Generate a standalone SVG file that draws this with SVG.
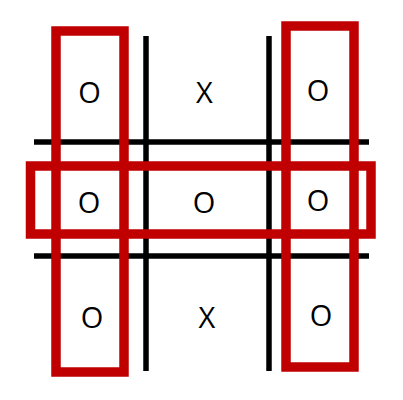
<svg xmlns="http://www.w3.org/2000/svg" width="403" height="400" viewBox="0 0 403 400">
<style>
.grid{stroke:#000;stroke-width:5.5;fill:none}
.win{stroke:#C00000;stroke-width:9.5;fill:none}
</style>
<rect width="403" height="400" fill="#fff"/>
<g id="grid">
<line class="grid" x1="146" y1="36" x2="146" y2="371"/>
<line class="grid" x1="269" y1="36" x2="269" y2="371"/>
<line class="grid" x1="34" y1="142" x2="369" y2="142"/>
<line class="grid" x1="34" y1="256" x2="369" y2="256"/>
</g>
<g id="cells" font-family="'Open Sans', 'Liberation Sans', sans-serif" font-size="29" fill="#000" text-anchor="middle">
<text x="89.5" y="102.5">O</text>
<text x="204.5" y="102.5">X</text>
<text x="318" y="101">O</text>
<text x="89" y="213">O</text>
<text x="204" y="213">O</text>
<text x="318" y="211">O</text>
<text x="92" y="328">O</text>
<text x="207" y="328">X</text>
<text x="321" y="326">O</text>
</g>
<g id="wins">
<rect class="win" x="56" y="31" width="68" height="341"/>
<rect class="win" x="286" y="26" width="68" height="341"/>
<rect class="win" x="30.5" y="166" width="340.5" height="68"/>
</g>
</svg>
